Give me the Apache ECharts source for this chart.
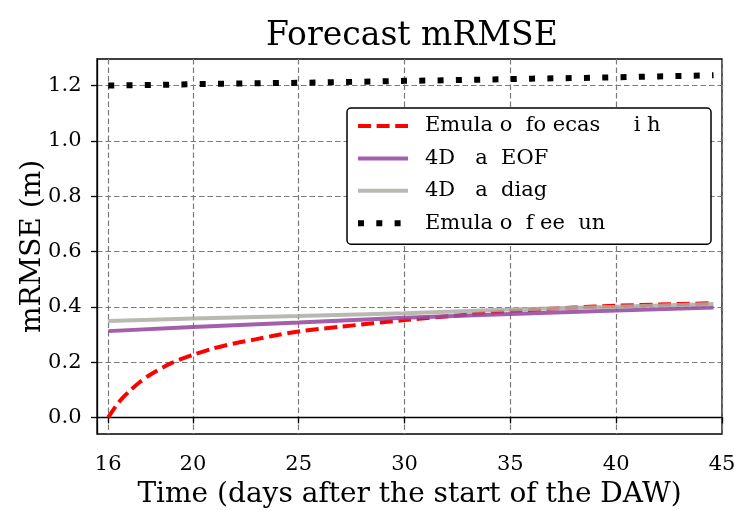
<!DOCTYPE html>
<html>
<head>
<meta charset="utf-8">
<script src="https://cdn.jsdelivr.net/npm/echarts@6/dist/echarts.min.js"></script>
<style>html,body{margin:0;padding:0;background:#fff;}#c{width:734px;height:510px;}</style>
</head>
<body>
<div id="c"></div>
<script>
// ---- data ----
const titleText = 'Forecast mRMSE';
const xName = 'Time (days after the start of the DAW)';
const yName = 'mRMSE (m)';
const xTicks = [16, 20, 25, 30, 35, 40, 45];
const yTicks = [0.0, 0.2, 0.4, 0.6, 0.8, 1.0, 1.2];

const seriesNames = ['Emula o  fo ecas     i h', '4D   a  EOF', '4D   a  diag', 'Emula o  f ee  un'];

const daysForecast = [16, 16.5, 17, 17.5, 18, 19, 20, 21, 22, 23, 24, 25, 27, 30, 33, 35, 38, 40, 42, 44.6];
const forecast =     [0.0, 0.055, 0.095, 0.128, 0.155, 0.197, 0.226, 0.25, 0.268, 0.283, 0.298, 0.311, 0.328, 0.352, 0.372, 0.384, 0.397, 0.404, 0.408, 0.413];

const daysDA = [16, 20, 25, 30, 35, 40, 44.6];
const daEOF =  [0.312, 0.327, 0.343, 0.36, 0.374, 0.387, 0.397];
const daDiag = [0.349, 0.358, 0.367, 0.377, 0.39, 0.40, 0.41];

const daysFree = [16, 18, 20, 22, 24, 26, 28, 30, 32, 34, 36, 38, 40, 42, 44.6];
const freeRun =  [1.200, 1.202, 1.205, 1.207, 1.209, 1.211, 1.214, 1.217, 1.219, 1.222, 1.225, 1.227, 1.230, 1.233, 1.237];

// ---- chart ----
const zip = (xs, ys) => xs.map((x, i) => [x, ys[i]]);
const FONT = '"DejaVu Serif", "Liberation Serif", serif';
const chart = echarts.init(document.getElementById('c'), null, {renderer: 'canvas'});
chart.setOption({
  backgroundColor: '#ffffff',
  animation: false,
  title: {
    text: titleText, left: 261, top: 15,
    textStyle: {fontFamily: FONT, fontSize: 33, fontWeight: 'normal', color: '#000'}
  },
  grid: {left: 97, right: 12, top: 59, bottom: 76, outerBoundsMode: 'none', containLabel: false,
    show: true, borderColor: '#000', borderWidth: 1.3, backgroundColor: 'transparent'},
  legend: {
    orient: 'vertical', left: 347, top: 108,
    padding: [7, 8, 10, 8],
    itemWidth: 50, itemHeight: 22, itemGap: 10.4,
    borderColor: '#000', borderWidth: 1.5, borderRadius: 4, backgroundColor: '#fff',
    itemStyle: {opacity: 0},
    lineStyle: {width: 'inherit', type: 'inherit'},
    textStyle: {fontFamily: FONT, fontSize: 21, color: '#000', width: 278, padding: [0, 0, 0, 12], lineHeight: 22},
    data: seriesNames
  },
  xAxis: {
    type: 'value', min: 15.47, max: 45,
    name: xName, nameLocation: 'middle', nameGap: 47, nameMoveOverlap: false,
    nameTextStyle: {fontFamily: FONT, fontSize: 28, color: '#000'},
    axisLine: {show: true, lineStyle: {color: '#000', width: 1.3}},
    axisTick: {show: true, customValues: xTicks, length: 6, lineStyle: {color: '#000', width: 1.3}},
    axisLabel: {customValues: xTicks, fontFamily: FONT, fontSize: 21, color: '#000', margin: 20},
    splitLine: {show: true, lineStyle: {color: '#7a7a7a', width: 1.2, type: [5.5, 3]}}
  },
  yAxis: {
    type: 'value', min: -0.06, max: 1.296,
    name: yName, nameLocation: 'middle', nameGap: 50, nameRotate: 90, nameMoveOverlap: false,
    nameTextStyle: {fontFamily: FONT, fontSize: 28, color: '#000'},
    axisLine: {show: true, lineStyle: {color: '#000', width: 1.3}},
    axisTick: {show: true, customValues: yTicks, length: 6, lineStyle: {color: '#000', width: 1.3}},
    axisLabel: {customValues: yTicks, fontFamily: FONT, fontSize: 21, color: '#000', margin: 15.5,
      formatter: v => Number(v).toFixed(1)},
    splitLine: {show: true, lineStyle: {color: '#7a7a7a', width: 1.2, type: [5.5, 3]}}
  },
  series: [
    {name: seriesNames[0], type: 'line', data: zip(daysForecast, forecast), showSymbol: false, symbol: 'none', smooth: 0.3, z: 3,
      lineStyle: {color: '#ff0000', width: 4, type: [13, 5.6], cap: 'butt'}, itemStyle: {color: '#ff0000'}},
    {name: seriesNames[1], type: 'line', data: zip(daysDA, daEOF), showSymbol: false, symbol: 'none', z: 4,
      lineStyle: {color: '#984ea3', width: 4, opacity: 0.9}, itemStyle: {color: '#984ea3'}},
    {name: seriesNames[2], type: 'line', data: zip(daysDA, daDiag), showSymbol: false, symbol: 'none', z: 5,
      lineStyle: {color: '#adada5', width: 4, opacity: 0.85}, itemStyle: {color: '#adada5'}},
    {name: seriesNames[3], type: 'line', data: zip(daysFree, freeRun), showSymbol: false, symbol: 'none', z: 6,
      lineStyle: {color: '#000000', width: 6, type: [6, 12.3], cap: 'butt'}, itemStyle: {color: '#000'}}
  ]
});
</script>
</body>
</html>
